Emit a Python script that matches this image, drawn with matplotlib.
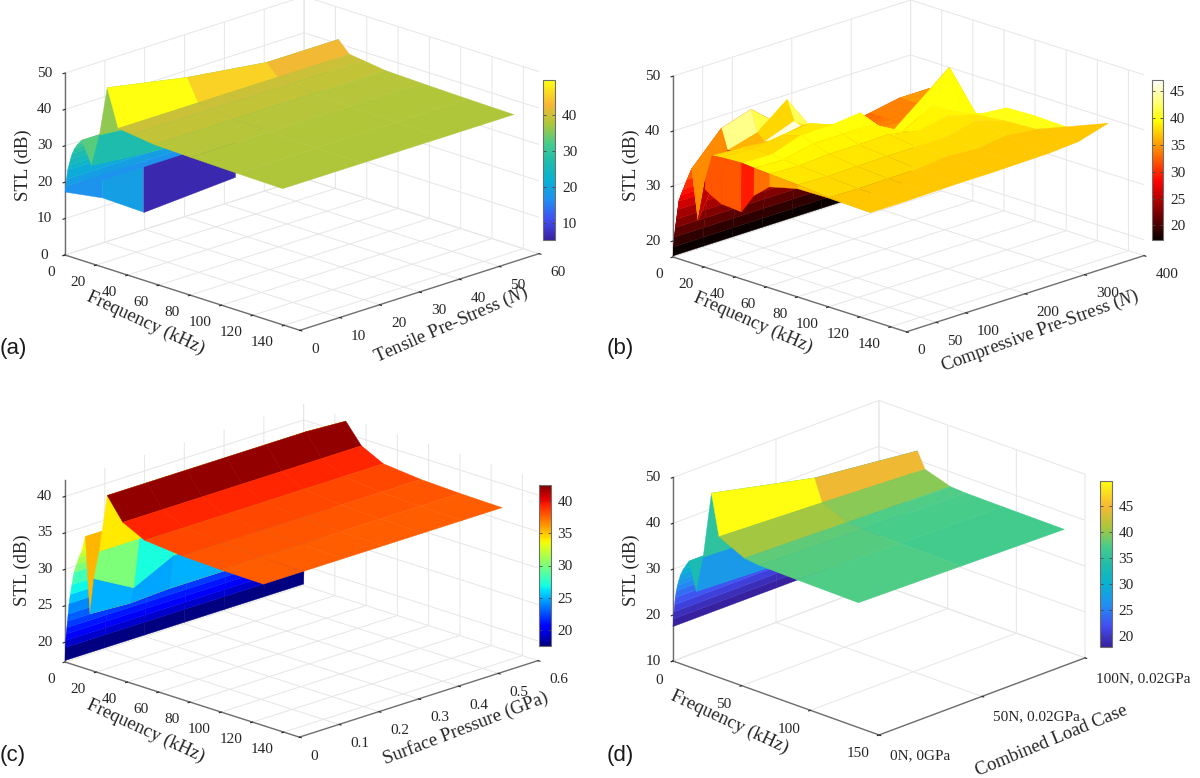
import numpy as np
import matplotlib
matplotlib.use("Agg")
import matplotlib.pyplot as plt
from matplotlib.colors import LinearSegmentedColormap, Normalize
from matplotlib.cm import ScalarMappable
from mpl_toolkits.mplot3d import proj3d

plt.rcParams['font.family'] = ['Liberation Serif', 'DejaVu Serif']
plt.rcParams['mathtext.fontset'] = 'custom'
plt.rcParams['mathtext.rm'] = 'Liberation Serif'
plt.rcParams['mathtext.it'] = 'Liberation Serif:italic'
plt.rcParams['grid.color'] = '#e6e6e6'
plt.rcParams['grid.linewidth'] = 0.7

FIG_W, FIG_H = 1200, 778

parula = LinearSegmentedColormap.from_list('parula', [
    (0.0, (0.22, 0.13, 0.62)), (0.125, (0.26, 0.30, 0.95)), (0.25, (0.13, 0.56, 0.95)),
    (0.38, (0.03, 0.70, 0.82)), (0.5, (0.13, 0.74, 0.66)), (0.6, (0.27, 0.80, 0.55)),
    (0.725, (0.68, 0.78, 0.23)), (0.85, (0.97, 0.72, 0.20)), (1.0, (1.0, 1.0, 0.06))])

# panel (a)
freq_a = [0, 0.5, 1, 1.7, 2.5, 3.5, 4.6, 6, 8, 10.7, 17, 22, 27, 34, 43, 57, 80, 110, 139]
load_a = [0, 20, 40, 58]
stl_a = [
    [17.3, 19, 21, 23.6, 25, 26.8, 28.5, 30, 31.5, 33, 27, 36, 49.7, 39.5, 39, 38.2, 37.9, 37.6, 37.4],
    [17.3, 19, 21, 23.6, 25, 26.8, 28.5, 30, 31.5, 33, 25, 34, 45.5, 39.5, 39, 38.2, 37.9, 37.6, 37.4],
    [17.3, 19, 21, 23.6, 25, 26.8, 28.5, 30, 31.5, 33, 27, 35, 42.6, 39.5, 39, 38.2, 37.9, 37.6, 37.4],
    [17.3, 19, 21, 23.6, 25, 26.8, 28.5, 30, 31.5, 33, 27, 35, 42.6, 39.5, 39, 38.2, 37.9, 37.6, 37.4],
]
# flap in front of the low frequency part of (a)
flap_freq = [0, 24, 50]
flap_load = [0, 0]
flap_stl = [[17.3, 19, 18.7], [17.3, 27, 32]]
wall_freq = [50, 50]
wall_load = [0, 23]
wall_stl = [[18.7, 32], [20.3, 34]]
wall_colour = [[6.5, 6.5], [6.5, 6.5]]

# panel (b)
freq_b = [0, 0.4, 0.8, 1.5, 2.2, 3, 3.7, 5, 6.5, 9, 12, 16, 20.6, 25, 31, 44, 52, 62, 80, 100, 127]
load_b = [0, 0.5, 50, 100, 150, 200, 250, 300, 350, 400]
rise_b = [17.3, 19, 20.8, 22.6, 24.2, 26, 27.6, 28.8, 30, 32]
tail_b = [
    [34.3, 25.3, 31.3, 30.5, 29.6, 29.3, 33, 35.5, 36.8, 36.9, 36.7],
    [34.3, 25.3, 33, 37.8, 38, 38.2, 38, 37.8, 37.5, 37, 36.7],
    [39.9, 36.2, 36.5, 37.5, 37.8, 38, 37.8, 37.6, 37.3, 36.9, 36.7],
    [41.6, 37.7, 36.5, 37, 38.5, 39.8, 39, 38, 37.4, 37, 36.8],
    [37, 42, 38.5, 38, 39, 39.8, 39, 38, 37.5, 37, 36.9],
    [34, 34, 34.5, 35, 37, 40.4, 39, 38.1, 37.5, 37.6, 36.9],
    [33, 33, 33.5, 34, 34.5, 34.8, 36, 37, 37.5, 37.2, 37],
    [34, 34, 34, 34, 34, 39.1, 39, 38, 38.8, 37.9, 37.1],
    [35, 35, 35, 35, 37, 43.5, 36, 36.5, 37, 37.3, 37.5],
    [35, 35, 35, 35, 33, 32.3, 34, 36, 36.2, 36, 39.1],
]
band_colour_b = [39.6, 39, 38.4, 37.8, 37, 36.8]
colour_fix_b = [(2, 10, 43.5), (3, 12, 46), (0, 12, 32), (0, 13, 32), (0, 14, 32)]
colour_fix_b += [(r, 15 + i, v) for r in range(1, 10) for i, v in enumerate(band_colour_b)]
colour_fix_b += [(8, 15, 39.5), (8, 16, 40), (8, 17, 40), (8, 18, 40)]

# panel (c)
freq_c = [0, 0.2, 0.5, 0.8, 1.2, 1.6, 2, 2.6, 3.4, 4.4, 5.8, 7.4, 9, 10.8, 13, 16, 18.5, 22, 27, 37, 51, 75, 100, 127]
load_c = [0, 0.1, 0.2, 0.3, 0.4, 0.5, 0.6]
rise_c = [17.5, 19.3, 20.3, 21.2, 22.1, 23, 24, 25.5, 26.8, 28.2, 30, 31.2, 32.3, 33.3, 35.4]
tail_c = [
    [25, 30, 34, 42, 39, 37.5, 37, 36.8, 36.7],
    [24.7, 27, 34, 42, 39, 37.5, 37, 36.8, 36.7],
    [25, 29.7, 34, 42, 39, 37.5, 37, 36.8, 36.7],
    [25, 30, 34, 42, 39, 37.5, 37, 36.8, 36.7],
    [25, 30, 34, 42, 39, 37.5, 37, 36.8, 36.7],
    [25, 30, 34, 42, 39, 37.5, 37, 36.8, 36.7],
    [25, 30, 34, 41.7, 39, 37.5, 37, 36.8, 36.7],
]
band_colour_c = [39.2, 38.3, 37.9, 37.7]
colour_fix_c = [(r, 19 + i, v) for r in range(7) for i, v in enumerate(band_colour_c)]

# panel (d)
freq_d = [0, 0.3, 0.7, 1.2, 1.7, 2.4, 3.2, 4.2, 5.5, 7.5, 11.6, 17, 22, 28, 33.5, 52, 63, 90, 135]
load_d = [0, 1, 2]
rise_d = [17.5, 19.2, 20.8, 22.4, 24, 25.5, 26.8, 28, 29.4, 30.8, 33]
tail_d = [
    [27, 35, 49.6, 40.7, 38, 37.6, 37.4, 37.2],
    [26, 34, 44.5, 39.7, 37.4, 37.1, 36.9, 36.8],
    [26, 34, 42, 38.6, 36.8, 36.6, 36.5, 36.4],
]

freq_ticks_a = [0, 20, 40, 60, 80, 100, 120, 140]
freq_ticks_d = [0, 50, 100, 150]
load_ticks_a = [0, 10, 20, 30, 40, 50, 60]
load_ticks_b = [0, 50, 100, 200, 300, 400]
load_ticks_c = [0, 0.1, 0.2, 0.3, 0.4, 0.5, 0.6]
load_ticks_d = [0, 1, 2]
load_labels_c = ['0', '0.1', '0.2', '0.3', '0.4', '0.5', '0.6']
load_labels_d = ['0N, 0GPa', '50N, 0.02GPa', '100N, 0.02GPa']


def fit_box(fig, ax, xlim, ylim, zlim, left, right):
    # move and scale the 3D axes so the floor corners land on the wanted pixels
    def corner_px(x, y):
        fig.canvas.draw()
        u, v, _ = proj3d.proj_transform(x, y, zlim[0], ax.get_proj())
        return ax.transData.transform((u, v))

    pos = ax.get_position()
    p0 = corner_px(xlim[0], ylim[0])
    p1 = corner_px(xlim[1], ylim[1])
    scale = (right[0] - left[0]) / (p1[0] - p0[0])
    size = pos.width * FIG_W * scale
    cx = pos.x0 * FIG_W + pos.width * FIG_W / 2
    cy = pos.y0 * FIG_H + pos.height * FIG_H / 2
    dx = left[0] - (cx + (p0[0] - cx) * scale)
    dy = (FIG_H - left[1]) - (cy + (p0[1] - cy) * scale)
    cx += dx
    cy += dy
    ax.set_position([(cx - size / 2) / FIG_W, (cy - size / 2) / FIG_H, size / FIG_W, size / FIG_H])


def draw_strips(ax, X, Y, Z, colours, first_zorder=3):
    # one collection per frequency step, drawn far to near, so the steep folds overlap properly
    for j in range(X.shape[1] - 1):
        ax.plot_surface(X[:, j:j + 2], Y[:, j:j + 2], Z[:, j:j + 2], facecolors=colours[:, j:j + 2],
                        rstride=1, cstride=1, shade=False, linewidth=0.3, zorder=first_zorder + j)


def draw_panel(fig, freq, load, stl, cmap, clim, xlim, ylim, zlim, elev, azim, aspect,
               left, right, xticks, yticks, zticks, ylabels=None,
               xpad=0, ypad=1, zpad=0, colour_fix=()):
    ax = fig.add_axes([0.1, 0.1, 0.5, 0.5 * FIG_W / FIG_H], projection='3d', computed_zorder=False)
    ax.patch.set_visible(False)
    ax.set_proj_type('ortho')
    ax.view_init(elev=elev, azim=azim)
    ax.set_box_aspect(aspect)
    ax.set_xlim(*xlim)
    ax.set_ylim(*ylim)
    ax.set_zlim(*zlim)
    ax.set_xticks(xticks)
    ax.set_yticks(yticks)
    ax.set_zticks(zticks)
    if ylabels is not None:
        ax.set_yticklabels(ylabels)

    norm = Normalize(*clim)
    X, Y = np.meshgrid(freq, load)
    Z = np.array(stl)
    colours = cmap(norm(Z))
    for row, col, value in colour_fix:
        colours[row, col] = cmap(norm(value))
    draw_strips(ax, X, Y, Z, colours)

    for axis in (ax.xaxis, ax.yaxis, ax.zaxis):
        axis.set_pane_color((1, 1, 1, 0))
        axis.pane.set_edgecolor('#e2e2e2')
        axis.line.set_color('#6e6e6e')
        axis.line.set_linewidth(1.0)
        axis._axinfo['tick']['inward_factor'] = 0.1
        axis._axinfo['tick']['outward_factor'] = 0.0
        axis._axinfo['tick']['linewidth'] = {True: 0.8, False: 0.5}
        axis._axinfo['tick']['color'] = '#6e6e6e'
    ax.zaxis.set_ticks_position('lower')
    ax.tick_params(axis='x', labelsize=11, pad=xpad, colors='#262626')
    ax.tick_params(axis='y', labelsize=11, pad=ypad, colors='#262626')
    ax.tick_params(axis='z', labelsize=11, pad=zpad, colors='#262626')
    for lab in ax.get_xticklabels():
        lab.set_ha('right')
    for lab in ax.get_yticklabels():
        lab.set_ha('left')
    for lab in ax.get_zticklabels():
        lab.set_va('center')
    fit_box(fig, ax, xlim, ylim, zlim, left, right)
    return ax, norm


def draw_colourbar(fig, cmap, norm, rect, ticks):
    x0, y0, x1, y1 = rect
    cax = fig.add_axes([x0 / FIG_W, 1 - y1 / FIG_H, (x1 - x0) / FIG_W, (y1 - y0) / FIG_H])
    cb = fig.colorbar(ScalarMappable(norm=norm, cmap=cmap), cax=cax)
    cb.set_ticks(ticks)
    cb.ax.tick_params(labelsize=11, length=2.5, width=0.6, direction='in', pad=5,
                      color='#444444', labelcolor='#262626', left=True, right=True)
    cb.outline.set_edgecolor('#6e6e6e')
    cb.outline.set_linewidth(0.8)


def axis_label(fig, text, x, y, rotation):
    fig.text(x / FIG_W, 1 - y / FIG_H, text, fontsize=13.5, rotation=rotation, rotation_mode='anchor',
             ha='center', va='center', color='#262626')


fig = plt.figure(figsize=(FIG_W / 100, FIG_H / 100), dpi=100)

# (a)
ax, norm = draw_panel(fig, freq_a, load_a, stl_a, parula, (5.4, 49.7), (0, 150), (0, 60), (0, 50),
                      18.7, -45, (332, 338, 192), (65, 255), (539, 257),
                      freq_ticks_a, load_ticks_a, [0, 10, 20, 30, 40, 50])
fx, fy = np.meshgrid(flap_freq, flap_load)
flap_rgba = parula(norm(np.array(flap_stl)))
ax.plot_surface(fx, fy, np.array(flap_stl), facecolors=flap_rgba, rstride=1, cstride=1,
                shade=False, linewidth=0.3, zorder=1)
wx, wy = np.meshgrid(wall_freq, wall_load)
wall_rgba = parula(norm(np.array(wall_colour)))
ax.plot_surface(wx, wy, np.array(wall_stl), facecolors=wall_rgba, rstride=1, cstride=1,
                shade=False, linewidth=0.3, zorder=2)
draw_colourbar(fig, parula, norm, (543.3, 80, 555, 240), [10, 20, 30, 40])
axis_label(fig, 'STL (dB)', 23, 165, 90)
axis_label(fig, 'Frequency (kHz)', 146, 323, -24.8)
axis_label(fig, 'Tensile Pre-Stress ($\\mathit{N}$)', 451, 325, 23.6)

# (b)
stl_b = [rise_b + row for row in tail_b]
ax, norm = draw_panel(fig, freq_b, load_b, stl_b, plt.cm.hot, (17.3, 47), (0, 150), (0, 400), (17.1, 50),
                      18.7, -45, (332, 338, 192), (673, 257), (1144, 257),
                      freq_ticks_a, load_ticks_b, [20, 30, 40, 50], colour_fix=colour_fix_b)
draw_colourbar(fig, plt.cm.hot, norm, (1151.7, 80, 1163, 240), [20, 25, 30, 35, 40, 45])
axis_label(fig, 'STL (dB)', 631, 165, 90)
axis_label(fig, 'Frequency (kHz)', 753, 323, -23.6)
axis_label(fig, 'Compressive Pre-Stress ($\\mathit{N}$)', 1040, 331, 20)

# (c)
stl_c = [rise_c + row for row in tail_c]
ax, norm = draw_panel(fig, freq_c, load_c, stl_c, plt.cm.jet, (17.6, 42.4), (0, 150), (0, 0.6), (17.3, 42.2),
                      18.7, -45, (332, 338, 192), (65, 662), (538, 662),
                      freq_ticks_a, load_ticks_c, [20, 25, 30, 35, 40], ylabels=load_labels_c,
                      colour_fix=colour_fix_c)
draw_colourbar(fig, plt.cm.jet, norm, (539, 485, 550.6, 646), [20, 25, 30, 35, 40])
axis_label(fig, 'STL (dB)', 22, 570, 90)
axis_label(fig, 'Frequency (kHz)', 146, 731, -24.8)
axis_label(fig, 'Surface Pressure (GPa)', 466, 728, 21)

# (d)
stl_d = [rise_d + row for row in tail_d]
ax, norm = draw_panel(fig, freq_d, load_d, stl_d, parula, (17.9, 49.8), (0, 150), (0, 2), (10, 50),
                      21.5, -45.6, (288, 294, 197), (673, 661), (1085, 662),
                      freq_ticks_d, load_ticks_d, [10, 20, 30, 40, 50], ylabels=load_labels_d)
draw_colourbar(fig, parula, norm, (1100, 481, 1111.7, 646.7), [20, 25, 30, 35, 40, 45])
axis_label(fig, 'STL (dB)', 631, 570, 90)
axis_label(fig, 'Frequency (kHz)', 730, 722, -25)
axis_label(fig, 'Combined Load Case', 1052, 741, 22.4)

for letter, x, y in [('(a)', 0, 349), ('(b)', 607, 349), ('(c)', 0, 756), ('(d)', 607, 756)]:
    fig.text(x / FIG_W, 1 - y / FIG_H, letter, family='Liberation Sans', fontsize=16,
             va='center', ha='left', color='#1a1a1a')

fig.savefig('out.png', dpi=100)
